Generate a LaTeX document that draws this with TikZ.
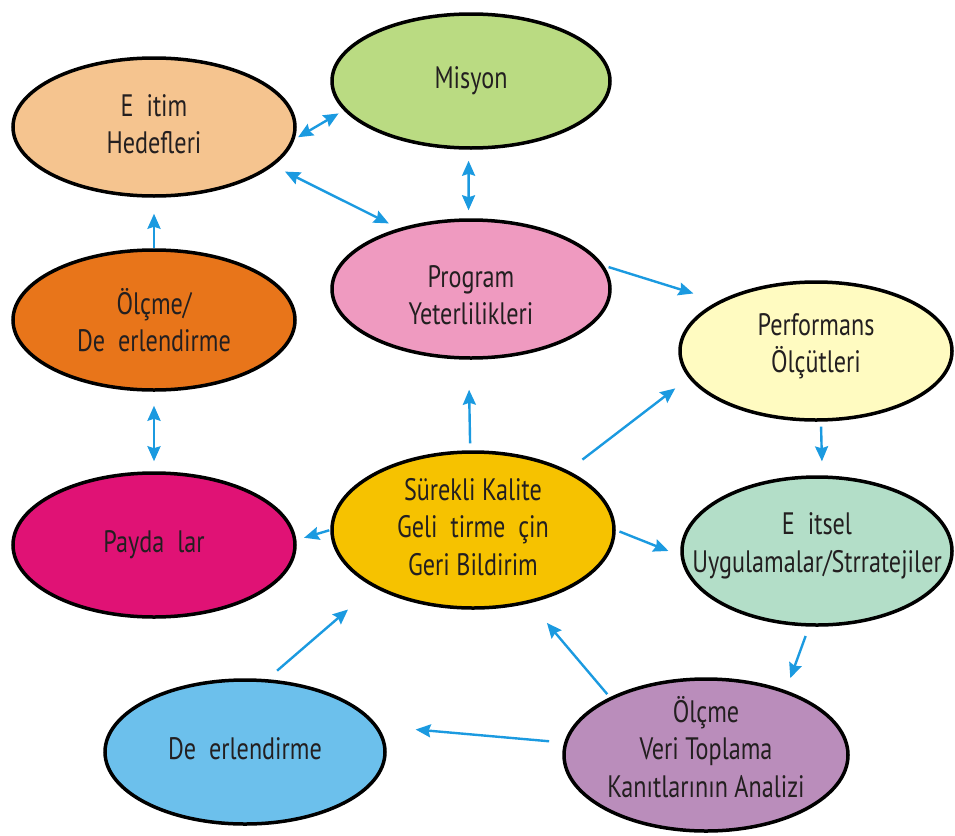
\documentclass[tikz,border=0pt]{standalone}
\usepackage{fontspec}
\setmainfont[FakeStretch=0.78]{PT Sans}
\usetikzlibrary{shapes.geometric,arrows.meta}
\definecolor{arrblue}{HTML}{1B9AE0}
\definecolor{txt}{HTML}{231F20}
\definecolor{cE}{HTML}{F5C48F}
\definecolor{cM}{HTML}{BADB82}
\definecolor{cP}{HTML}{EF9AC0}
\definecolor{cPerf}{HTML}{FFFBC1}
\definecolor{cOD}{HTML}{E8751A}
\definecolor{cPay}{HTML}{E01275}
\definecolor{cS}{HTML}{F6C200}
\definecolor{cEg}{HTML}{B3DEC8}
\definecolor{cOV}{HTML}{BA8DBB}
\definecolor{cD}{HTML}{6CC0EC}
\begin{document}
\begin{tikzpicture}[x=1pt,y=-1pt,
  bub/.style={ellipse, draw=black, line width=3.5pt, inner sep=0pt},
  lbl/.style={inner sep=0pt, align=center, font=\fontsize{31}{37.5}\selectfont, text=txt},
  tip/.tip={Stealth[length=15pt,width=13pt,inset=2pt]},
  arr/.style={draw=arrblue, line width=2.4pt, -tip},
  darr/.style={draw=arrblue, line width=2.4pt, tip-tip}]
\useasboundingbox (0,0) rectangle (955,835);
\node[bub, fill=cE, minimum width=282pt, minimum height=138pt] (E1) at (154,127) {};
\node[bub, fill=cM, minimum width=278pt, minimum height=134pt] (E2) at (471,81) {};
\node[bub, fill=cP, minimum width=278pt, minimum height=138pt] (E3) at (471,289) {};
\node[bub, fill=cPerf, minimum width=272pt, minimum height=138pt] (E4) at (816,351) {};
\node[bub, fill=cOD, minimum width=282pt, minimum height=140pt] (E5) at (154,320) {};
\node[bub, fill=cPay, minimum width=282pt, minimum height=144pt] (E6) at (154,545) {};
\node[bub, fill=cS, minimum width=282pt, minimum height=156pt] (E7) at (473,530) {};
\node[bub, fill=cEg, minimum width=270pt, minimum height=148pt] (E8) at (817,551) {};
\node[bub, fill=cOV, minimum width=284pt, minimum height=152pt] (E9) at (706,755) {};
\node[bub, fill=cD, minimum width=280pt, minimum height=144pt] (E10) at (245,752) {};
\node[lbl] (T1) at ([yshift=3pt]E1.center) {E\ \ itim\\Hedefleri};
\node[lbl] (T2) at (E2.center) {Misyon};
\node[lbl] (T3) at ([yshift=-6pt]E3.center) {Program\\Yeterlilikleri};
\node[lbl] (T4) at ([yshift=5pt]E4.center) {Performans\\Ölçütleri};
\node[lbl] (T5) at (E5.center) {Ölçme/\\De\ \ erlendirme};
\node[lbl] (T6) at (E6.center) {Payda\ \ lar};
\node[lbl] (T7) at ([yshift=3pt]E7.center) {Sürekli Kalite\\Geli\ \ tirme\ \ çin\\Geri Bildirim};
\node[lbl] (T8) at ([yshift=5pt]E8.center) {E\ \ itsel\\Uygulamalar/Strratejiler};
\node[lbl] (T9) at ([yshift=8pt]E9.center) {Ölçme\\Veri Toplama\\Kanıtlarının Analizi};
\node[lbl] (T10) at ([yshift=3pt]E10.center) {De\ \ erlendirme};
\draw[darr, shorten <=4pt, shorten >=6pt] (E1.-5) -- (E2.193);
\draw[darr, shorten <=13pt, shorten >=11pt] (E1.-18) -- (E3.140);
\draw[darr, shorten <=11pt, shorten >=8pt] (E2.268) -- (E3.92);
\draw[arr, shorten >=16pt] (E5.north) -- (E1.south);
\draw[darr, shorten <=14pt, shorten >=10pt] (E5.south) -- (E6.north);
\draw[arr, shorten <=5pt, shorten >=26pt] (E3.10) -- (E4.153);
\draw[arr, shorten <=5pt, shorten >=14pt] (E4.-86) -- (E8.86);
\draw[arr, shorten <=10pt, shorten >=13pt] (E8.-96) -- (E9.39);
\draw[arr, shorten <=4pt, shorten >=26pt] (E9.149) -- (E7.-52);
\draw[arr, shorten <=15pt, shorten >=38pt] (E9.175) -- (E10.11);
\draw[arr, shorten <=13pt, shorten >=34pt] (E10.73) -- (E7.210);
\draw[arr, shorten <=1pt, shorten >=8pt] (E7.180) -- (E6.2);
\draw[arr, shorten <=7pt, shorten >=30pt] (E7.92) -- (E3.268);
\draw[arr, shorten <=18pt, shorten >=17pt] (E7.32) -- (E4.192);
\draw[arr, shorten <=4pt, shorten >=13pt] (E7.0) -- (E8.182);
\end{tikzpicture}
\end{document}
